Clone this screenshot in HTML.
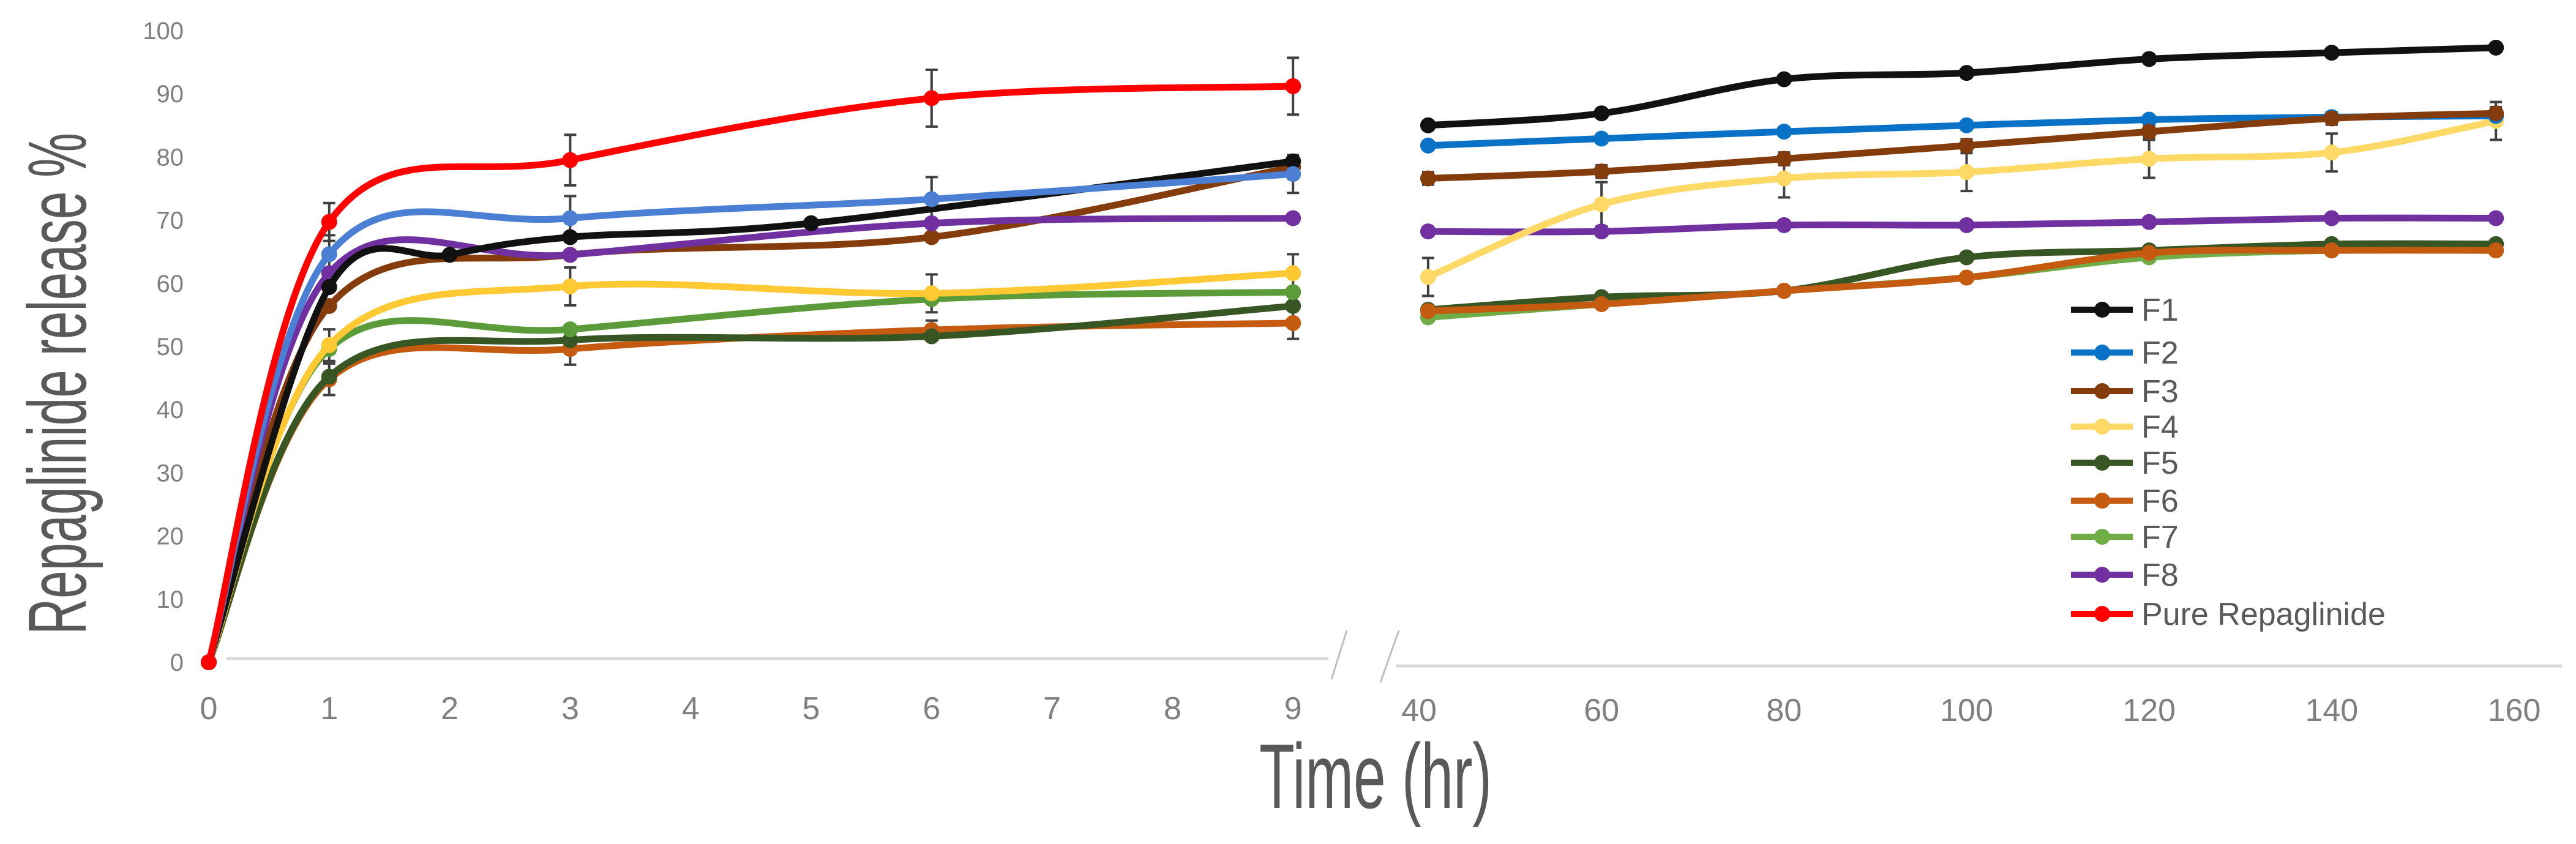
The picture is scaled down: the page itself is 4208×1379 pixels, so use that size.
<!DOCTYPE html>
<html><head><meta charset="utf-8">
<style>
html,body{margin:0;padding:0;background:#fff;}
svg{display:block;font-family:"Liberation Sans",sans-serif;}
</style></head>
<body>
<svg id="chart" width="4208" height="1379" viewBox="0 0 4208 1379" xmlns="http://www.w3.org/2000/svg">
<text x="0" y="0" transform="translate(140,627) rotate(-90)" text-anchor="middle" font-size="135" fill="#595959" textLength="820" lengthAdjust="spacingAndGlyphs">Repaglinide release %</text>
<text x="2247" y="1320" text-anchor="middle" font-size="150" fill="#595959" textLength="380" lengthAdjust="spacingAndGlyphs">Time (hr)</text>
<g id="plot"></g>
</svg>
<script>
// Left panel data (hours 0-9)
const leftTimesF1 = [0,1,2,3,5,9];
const leftTimes = [0,1,3,6,9];
const F1L = [0,59.4,64.5,67.3,69.5,79.3];
const F2L = [0,64.6,70.3,73.3,77.3];
const F3L = [0,56.4,64.5,67.3,78.4];
const F4L = [0,50.2,59.5,58.4,61.6];
const F5L = [0,45.2,51.0,51.6,56.4];
const F6L = [0,44.8,49.6,52.6,53.7];
const F7L = [0,49.6,52.7,57.5,58.6];
const F8L = [0,61.6,64.5,69.5,70.3];
const PRL = [0,69.7,79.5,89.3,91.2];
const errPR = [0,3,4,4.5,4.5];
const errF2 = [0,3,3.5,3.5,3];
const errF6 = [0,2.5,2.5,1.5,2.5];
const errF4 = [0,2.5,3,3,3];
// Right panel data (hours 40-160)
const rightTimes = [41,60,80,100,120,140,158];
const F1R = [85.0,86.9,92.3,93.3,95.5,96.5,97.3];
const F2R = [81.8,82.9,84.0,85.0,85.9,86.3,86.5];
const F3R = [76.6,77.7,79.7,81.8,84.0,86.1,86.9];
const F4R = [61.0,72.5,76.6,77.6,79.7,80.7,85.7];
const F5R = [55.8,57.8,58.8,64.1,65.2,66.2,66.2];
const F6R = [55.6,56.7,58.8,60.9,64.8,65.2,65.2];
const F7R = [54.6,56.7,58.8,60.9,64.1,65.2,65.2];
const F8R = [68.2,68.2,69.2,69.2,69.7,70.3,70.3];
const errF4R = [3,3.5,3,3,3,3,3];
const errF3R = [1,1,1,1,1,1,1];
const leftTicks = [0,1,2,3,4,5,6,7,8,9];
const rightTicks = [40,60,80,100,120,140,160];
const yTicks = [0,10,20,30,40,50,60,70,80,90,100];
const seriesNames = ["F1","F2","F3","F4","F5","F6","F7","F8","Pure Repaglinide"];

const NS="http://www.w3.org/2000/svg";
const plot=document.getElementById('plot');
function el(tag,attrs,parent){const e=document.createElementNS(NS,tag);for(const k in attrs)e.setAttribute(k,attrs[k]);(parent||plot).appendChild(e);return e;}
const xL=t=>341+t*196.8;
const xR=t=>2318+(t-40)*(1789/120);
const yV=v=>1082-v*10.32;

function spline(pts){
  let d=`M${pts[0][0]},${pts[0][1]}`;
  for(let i=0;i<pts.length-1;i++){
    const p0=pts[i-1]||pts[i],p1=pts[i],p2=pts[i+1],p3=pts[i+2]||p2;
    const t=1/6;
    const c1=[p1[0]+(p2[0]-p0[0])*t,p1[1]+(p2[1]-p0[1])*t];
    const c2=[p2[0]-(p3[0]-p1[0])*t,p2[1]-(p3[1]-p1[1])*t];
    d+=` C${c1[0]},${c1[1]} ${c2[0]},${c2[1]} ${p2[0]},${p2[1]}`;
  }
  return d;
}

// axes
const axL=el('line',{x1:370,y1:1076,x2:2170,y2:1076,stroke:'#d9d9d9','stroke-width':5});


const axR=el('line',{x1:2280,y1:1088,x2:4185,y2:1088,stroke:'#d9d9d9','stroke-width':5});


const br1=el('line',{x1:2175,y1:1110,x2:2200,y2:1030,stroke:'#bfbfbf','stroke-width':3});


const br2=el('line',{x1:2255,y1:1115,x2:2285,y2:1030,stroke:'#bfbfbf','stroke-width':3});



yTicks.forEach(v=>{
  const t=el('text',{x:300,y:yV(v)+14,'text-anchor':'end','font-size':40,fill:'#7f7f7f'});
  t.textContent=v;
  
  
});
leftTicks.forEach(v=>{
  const t=el('text',{x:xL(v),y:1175,'text-anchor':'middle','font-size':52,fill:'#7f7f7f'});
  t.textContent=v;
  
  
});
rightTicks.forEach(v=>{
  const t=el('text',{x:xR(v),y:1178,'text-anchor':'middle','font-size':52,fill:'#7f7f7f'});
  t.textContent=v;
  
  
});

function errbars(times,vals,errs,xf){
  times.forEach((t,i)=>{
    if(!errs[i])return;
    const x=xf(t),y1=yV(vals[i]+errs[i]),y2=yV(vals[i]-errs[i]);
    const g=el('path',{d:`M${x},${y1}V${y2}M${x-10},${y1}H${x+10}M${x-10},${y2}H${x+10}`,stroke:'#404040','stroke-width':4,fill:'none'});
    
    
  });
}
function series(name,times,vals,xf,color){
  const pts=times.map((t,i)=>[xf(t),yV(vals[i])]);
  const p=el('path',{d:spline(pts),stroke:color,'stroke-width':11,fill:'none','stroke-linecap':'round'});
  
  
  pts.forEach(q=>{
    const c=el('circle',{cx:q[0],cy:q[1],r:13,fill:color});
    
    
  });
}
errbars(leftTimes,PRL,errPR,xL);
errbars(leftTimes,F2L,errF2,xL);
errbars(leftTimes,F6L,errF6,xL);
errbars(leftTimes,F4L,errF4,xL);
errbars(rightTimes,F4R,errF4R,xR);
errbars(rightTimes,F3R,errF3R,xR);

const C={F1:'#111111',F2L:'#4A7FD4',F2:'#0A72C6',F3:'#843C0C',F4L:'#FFC933',F4:'#FFD966',F5:'#375623',F6:'#C55A11',F7L:'#5B9B3A',F7:'#70AD47',F8:'#7030A0',PR:'#FF0000'};
series('f6',leftTimes,F6L,xL,C.F6);
series('f5',leftTimes,F5L,xL,C.F5);
series('f7',leftTimes,F7L,xL,C.F7L);
series('f4',leftTimes,F4L,xL,C.F4L);
series('f3',leftTimes,F3L,xL,C.F3);
series('f8',leftTimes,F8L,xL,C.F8);
series('f1',leftTimesF1,F1L,xL,C.F1);
series('f2',leftTimes,F2L,xL,C.F2L);
series('pure',leftTimes,PRL,xL,C.PR);

series('f7',rightTimes,F7R,xR,C.F7);
series('f5',rightTimes,F5R,xR,C.F5);
series('f6',rightTimes,F6R,xR,C.F6);
series('f8',rightTimes,F8R,xR,C.F8);
series('f4',rightTimes,F4R,xR,C.F4);
series('f2',rightTimes,F2R,xR,C.F2);
series('f3',rightTimes,F3R,xR,C.F3);
series('f1',rightTimes,F1R,xR,C.F1);

const legColors=[C.F1,C.F2,C.F3,C.F4,C.F5,C.F6,C.F7,C.F8,C.PR];
const legY=[506,576,639,697,756,818,877,939,1003];
seriesNames.forEach((n,i)=>{
  const g=el('g',{});
  
  
  el('line',{x1:3383,y1:legY[i],x2:3484,y2:legY[i],stroke:legColors[i],'stroke-width':10},g);
  el('circle',{cx:3434,cy:legY[i],r:13,fill:legColors[i]},g);
  const t=el('text',{x:3498,y:legY[i]+18,'font-size':52,fill:'#595959'},g);
  t.textContent=n;
});
</script>
</body></html>
